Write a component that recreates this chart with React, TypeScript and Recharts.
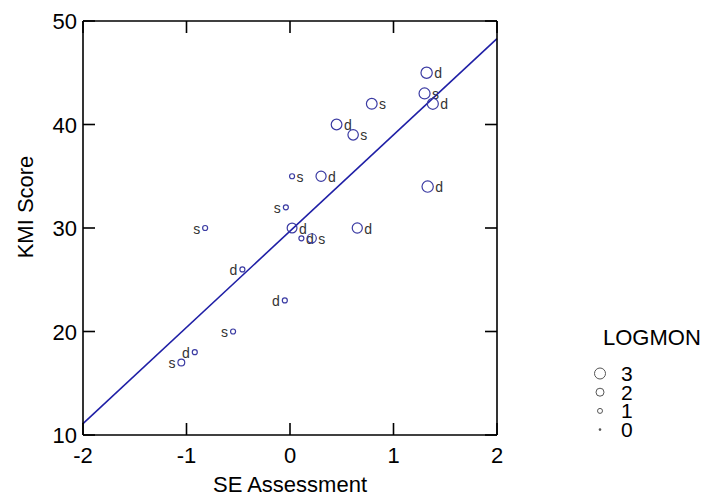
import React from "react";
import {
  ScatterChart,
  Scatter,
  XAxis,
  YAxis,
  ReferenceLine,
} from "recharts";

// values
const seAssessment = [1.32, 1.3, 1.38, 0.79, 0.45, 0.61, 0.02, 0.3, 1.33, -0.04, 0.02, 0.11, 0.21, 0.65, -0.82, -0.46, -0.05, -0.55, -0.92, -1.05];
const kmiScore = [45, 43, 42, 42, 40, 39, 35, 35, 34, 32, 30, 29, 29, 30, 30, 26, 23, 20, 18, 17];
const logmon = [3.1, 3.0, 3.0, 2.9, 2.9, 2.8, 1.0, 2.7, 3.1, 1.0, 2.6, 1.0, 2.4, 2.7, 1.0, 1.0, 1.0, 1.0, 1.0, 1.6];
const group = ["d", "s", "d", "s", "d", "s", "s", "d", "d", "s", "d", "d", "s", "d", "s", "d", "d", "s", "d", "s"];

const xTicks = [-2, -1, 0, 1, 2];
const yTicks = [10, 20, 30, 40, 50];
const legendLevels = [3, 2, 1, 0];

// fitted line
const fitIntercept = 29.7;
const fitSlope = 9.3;

// points whose letter sits to the left of the marker
const leftLabelled = new Set([9, 14, 15, 16, 17, 18, 19]);

const FONT = '"Liberation Sans", Arial, sans-serif';
const POINT_COLOR = "#3b3ba3";
const LINE_COLOR = "#1f1fa6";
const TICK_LEN = 12;

const radius = (v: number) => 1 + 1.5 * v;

const points = seAssessment.map((x, i) => ({
  x,
  y: kmiScore[i],
  logmon: logmon[i],
  group: group[i],
  idx: i,
}));

function PointShape(props: any) {
  const { cx, cy, payload } = props;
  if (cx == null || cy == null) return null;
  const r = radius(payload.logmon);
  const left = leftLabelled.has(payload.idx);
  return (
    <g>
      <circle cx={cx} cy={cy} r={r} fill="none" stroke={POINT_COLOR} strokeWidth={1.2} />
      <text
        x={left ? cx - r - 2.5 : cx + r + 2}
        y={cy + 5.5}
        fontSize={14}
        fontFamily={FONT}
        fill="#333"
        textAnchor={left ? "end" : "start"}
      >
        {payload.group}
      </text>
    </g>
  );
}

// inward ticks, the way the original stats package draws them
function BottomTick({ x, y, payload }: any) {
  return (
    <g>
      <line x1={x} x2={x} y1={y} y2={y - TICK_LEN} stroke="#000" strokeWidth={1.6} />
      <text x={x} y={y + 28} textAnchor="middle" fontSize={22} fontFamily={FONT} fill="#000">
        {payload.value}
      </text>
    </g>
  );
}

function LeftTick({ x, y, payload }: any) {
  return (
    <g>
      <line x1={x} x2={x + TICK_LEN} y1={y} y2={y} stroke="#000" strokeWidth={1.6} />
      <text x={x - 6} y={y + 8} textAnchor="end" fontSize={22} fontFamily={FONT} fill="#000">
        {payload.value}
      </text>
    </g>
  );
}

function TopTick({ x, y }: any) {
  return <line x1={x} x2={x} y1={y} y2={y + TICK_LEN} stroke="#000" strokeWidth={1.6} />;
}

function RightTick({ x, y }: any) {
  return <line x1={x} x2={x - TICK_LEN} y1={y} y2={y} stroke="#000" strokeWidth={1.6} />;
}

const axisStroke = { stroke: "#000", strokeWidth: 1.6 };

export default function App() {
  return (
    <div style={{ position: "absolute", left: 0, top: 0, width: 707, height: 497, background: "#fff", fontFamily: FONT }}>
      <ScatterChart width={707} height={497} margin={{ top: 20, right: 209, bottom: 0, left: 0 }}>
        <XAxis
          xAxisId="b"
          dataKey="x"
          type="number"
          domain={[-2, 2]}
          ticks={xTicks}
          interval={0}
          height={62}
          tickSize={0}
          tickMargin={0}
          tickLine={false}
          tick={BottomTick}
          axisLine={axisStroke}
          label={{ value: "SE Assessment", position: "insideBottom", offset: 5, style: { fontSize: 22, fill: "#000", fontFamily: FONT } }}
        />
        <XAxis
          xAxisId="t"
          orientation="top"
          dataKey="x"
          type="number"
          domain={[-2, 2]}
          ticks={xTicks}
          interval={0}
          height={1}
          tickSize={0}
          tickMargin={0}
          tickLine={false}
          tick={TopTick}
          axisLine={axisStroke}
        />
        <YAxis
          yAxisId="l"
          dataKey="y"
          type="number"
          domain={[10, 50]}
          ticks={yTicks}
          interval={0}
          width={83}
          tickSize={0}
          tickMargin={0}
          tickLine={false}
          tick={LeftTick}
          axisLine={axisStroke}
          label={{
            content: () => (
              <text
                x={25}
                y={207}
                transform="rotate(-90, 25, 207)"
                textAnchor="middle"
                dominantBaseline="central"
                fontSize={22}
                fontFamily={FONT}
                fill="#000"
              >
                KMI Score
              </text>
            ),
          }}
        />
        <YAxis
          yAxisId="r"
          orientation="right"
          dataKey="y"
          type="number"
          domain={[10, 50]}
          ticks={yTicks}
          interval={0}
          width={1}
          tickSize={0}
          tickMargin={0}
          tickLine={false}
          tick={RightTick}
          axisLine={axisStroke}
        />
        <ReferenceLine
          xAxisId="b"
          yAxisId="l"
          segment={[
            { x: -2, y: fitIntercept + fitSlope * -2 },
            { x: 2, y: fitIntercept + fitSlope * 2 },
          ]}
          stroke={LINE_COLOR}
          strokeWidth={1.6}
        />
        <Scatter
          xAxisId="t"
          yAxisId="r"
          data={points}
          shape={() => <g />}
          isAnimationActive={false}
        />
        <Scatter
          xAxisId="b"
          yAxisId="l"
          data={points}
          shape={PointShape}
          isAnimationActive={false}
        />
      </ScatterChart>
      <svg width={707} height={497} style={{ position: "absolute", left: 0, top: 0, pointerEvents: "none" }}>
        <text x={603} y={345} fontSize={22} fontFamily={FONT} fill="#000">
          LOGMON
        </text>
        {legendLevels.map((lv, i) => {
          const cy = 373.5 + i * 18.7;
          return (
            <g key={lv}>
              {lv === 0 ? (
                <circle cx={600} cy={cy} r={1.3} fill="#555" />
              ) : (
                <circle cx={600} cy={cy} r={radius(lv)} fill="none" stroke="#555" strokeWidth={1} />
              )}
              <text x={621} y={cy + 7.5} fontSize={21} fontFamily={FONT} fill="#000">
                {lv}
              </text>
            </g>
          );
        })}
      </svg>
    </div>
  );
}
